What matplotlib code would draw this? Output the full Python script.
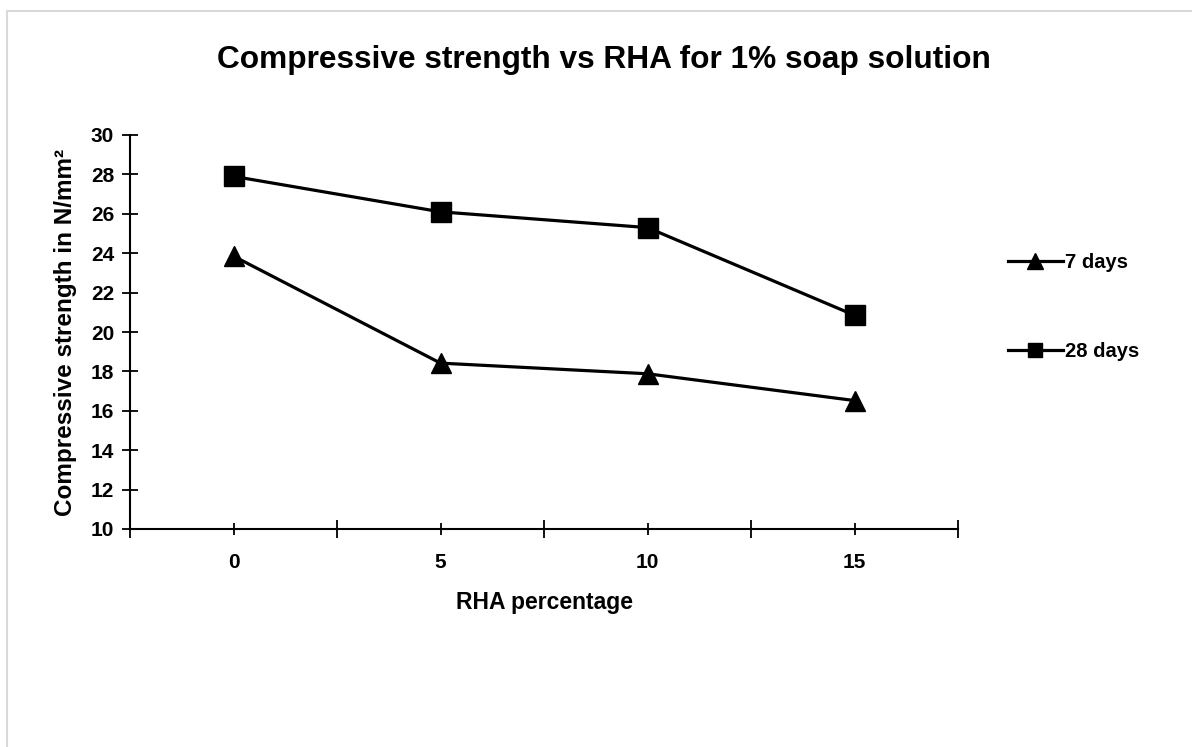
"""Compressive strength vs RHA line chart (1% soap solution)."""

import matplotlib
matplotlib.use("Agg")
import matplotlib.pyplot as plt
from matplotlib.lines import Line2D

plt.rcParams["font.family"] = ["Liberation Sans", "DejaVu Sans"]
plt.rcParams["font.weight"] = "bold"

rha_pct = ["0", "5", "10", "15"]
days_7 = [23.85, 18.42, 17.88, 16.52]
days_28 = [27.9, 26.1, 25.3, 20.85]
y_ticks = [10, 12, 14, 16, 18, 20, 22, 24, 26, 28, 30]

fig = plt.figure(figsize=(11.92, 7.47), dpi=100)
fig.patch.set_facecolor("white")
ax = fig.add_axes([130 / 1192, 1 - 529 / 747, 828 / 1192, 394 / 747])

x = list(range(len(rha_pct)))
ax.plot(x, days_7, color="black", linewidth=2.3, marker="^", markersize=15,
        label="7 days", zorder=3)
ax.plot(x, days_28, color="black", linewidth=2.3, marker="s", markersize=14,
        label="28 days", zorder=3)

ax.set_xlim(-0.5, len(rha_pct) - 0.5)
ax.set_ylim(10, 30)
ax.set_yticks(y_ticks)
ax.set_xticks(x)
ax.set_xticklabels(rha_pct)
ax.set_xticks([i - 0.5 for i in range(len(rha_pct) + 1)], minor=True)

for side in ("top", "right"):
    ax.spines[side].set_visible(False)
for side in ("left", "bottom"):
    ax.spines[side].set_linewidth(1.5)

ax.tick_params(axis="y", direction="inout", length=11, width=1.3, labelsize=15, pad=6)
ax.tick_params(axis="x", which="major", direction="inout", length=8.6, width=1.3,
               labelsize=15, pad=13)
ax.tick_params(axis="x", which="minor", direction="inout", length=12.5, width=1.3)

ax.set_xlabel("RHA percentage", fontsize=16.5, fontweight="bold", labelpad=14)
ax.set_ylabel("Compressive strength in N/mm²", fontsize=17.5, fontweight="bold", labelpad=10)

fig.text(604 / 1192, 1 - 60 / 747, "Compressive strength vs RHA for 1% soap solution",
         ha="center", va="center", fontsize=22.8, fontweight="bold")

fig.legend(loc="center left", bbox_to_anchor=(990 / 1192, 1 - 307 / 747),
           frameon=False, fontsize=14.5, handlelength=2.7, handletextpad=0.1,
           labelspacing=3.45, markerscale=0.75)

# light grey chart-area border along the top and left edges
fig.add_artist(Line2D([7.5 / 1192, 7.5 / 1192], [0, 1 - 11 / 747],
                      transform=fig.transFigure, color="#d9d9d9", linewidth=1.5))
fig.add_artist(Line2D([7.5 / 1192, 1], [1 - 11 / 747, 1 - 11 / 747],
                      transform=fig.transFigure, color="#d9d9d9", linewidth=1.5))

fig.savefig("out.png", dpi=100, facecolor="white")
